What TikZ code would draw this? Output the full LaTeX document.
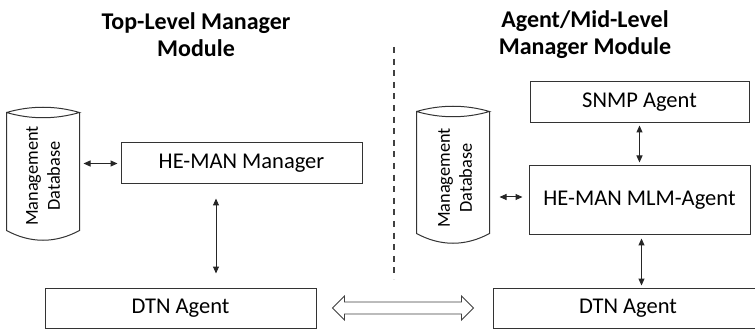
\documentclass[tikz,border=0pt]{standalone}
\usepackage{fontspec}
\setmainfont{Carlito}
\usetikzlibrary{arrows.meta,calc}
\begin{document}
\begin{tikzpicture}[x=1pt,y=-1pt,
  line width=1pt,
  boxstyle/.style={draw=black!80,fill=white,inner sep=0pt,font=\fontsize{22.5}{26}\selectfont},
  titlestyle/.style={align=center,inner sep=0pt,font=\fontsize{24}{27}\selectfont\bfseries},
  dbtext/.style={align=center,inner sep=0pt,rotate=90,font=\fontsize{18.3}{22}\selectfont},
  dbbox/.style={draw=none,inner sep=0pt},
  dbline/.style={draw=black!80},
  arr/.style={draw=black!85,line width=1pt,{Triangle[length=7pt,width=6pt]}-{Triangle[length=7pt,width=6pt]}},
  divider/.style={draw=black!75,line width=1.2pt,dash pattern=on 6pt off 5.6pt},
  bigarrow/.style={draw=black!75,fill=white,line width=0.9pt,line join=miter}
]
\useasboundingbox (0,0) rectangle (755,331);

% titles
\node[titlestyle] (t1) at (196,35) {Top-Level Manager\\Module};
\node[titlestyle] (t2) at (585,35) {Agent/Mid-Level\\Manager Module};

% divider
\coordinate (d1) at (394,47);
\coordinate (d2) at (394,279);
\draw[divider] (d1) -- (d2);

% boxes
\node[boxstyle,minimum width=241pt,minimum height=41pt] (mgr) at (241.5,163.5) {HE-MAN Manager};
\node[boxstyle,minimum width=271pt,minimum height=40pt] (dtnL) at (180.5,308) {DTN Agent};
\node[boxstyle,minimum width=219pt,minimum height=41pt] (snmp) at (639.5,102.5) {SNMP Agent};
\node[boxstyle,minimum width=221pt,minimum height=69pt] (mlm) at (639.5,200.5) {HE-MAN MLM-Agent};
\node[boxstyle,minimum width=270pt,minimum height=40pt] (dtnR) at (628,308) {DTN Agent};

% databases
\node[dbbox,minimum width=72pt,minimum height=132pt] (db1) at (43,174) {};
\node[dbbox,minimum width=72pt,minimum height=136pt] (db2) at (453,175) {};
\foreach \d in {db1,db2}{
  \coordinate (\d a) at ($(\d.north west)+(0,5)$);
  \coordinate (\d b) at ($(\d.north east)+(0,5)$);
  \coordinate (\d c) at ($(\d.south west)+(0,-10)$);
  \coordinate (\d d) at ($(\d.south east)+(0,-10)$);
  \draw[dbline] (\d a) .. controls +(24,-7) and +(-24,-7) .. (\d b)
                     .. controls +(-24,7) and +(24,7) .. (\d a) -- (\d c)
                     .. controls +(24,13) and +(-24,13) .. (\d d) -- (\d b);
}
\node[dbtext] (db1t) at (43,176) {Management\\Database};
\node[dbtext] (db2t) at (455,178) {Management\\Database};

% connectors
\coordinate (vx) at (216,0);
\draw[arr] ($(db1.east |- mgr.west)+(4,0)$) -- ($(mgr.west)+(-3,0)$);
\draw[arr] ($(db2.east |- mlm.west)+(10,-3.5)$) -- ($(mlm.west)+(-6,-3.5)$);
\draw[arr] ($(mgr.south -| vx)+(0,14)$) -- ($(dtnL.north -| vx)+(0,-14)$);
\draw[arr] ($(snmp.south)+(0,2)$) -- ($(mlm.north)+(0,-3)$);
\draw[arr] ($(mlm.south)+(2,3)$) -- ($(mlm.south |- dtnR.north)+(2,-2)$);

% hollow double arrow between DTN agents
\coordinate (L) at ($(dtnL.east)+(16,0)$);
\coordinate (R) at ($(dtnR.west)+(-19,0)$);
\draw[bigarrow] (L) -- ($(L)+(12,-12)$) -- ($(L)+(12,-6)$) -- ($(R)+(-12,-6)$) -- ($(R)+(-12,-12)$)
  -- (R) -- ($(R)+(-12,12)$) -- ($(R)+(-12,6)$) -- ($(L)+(12,6)$) -- ($(L)+(12,12)$) -- cycle;
\end{tikzpicture}
\end{document}
